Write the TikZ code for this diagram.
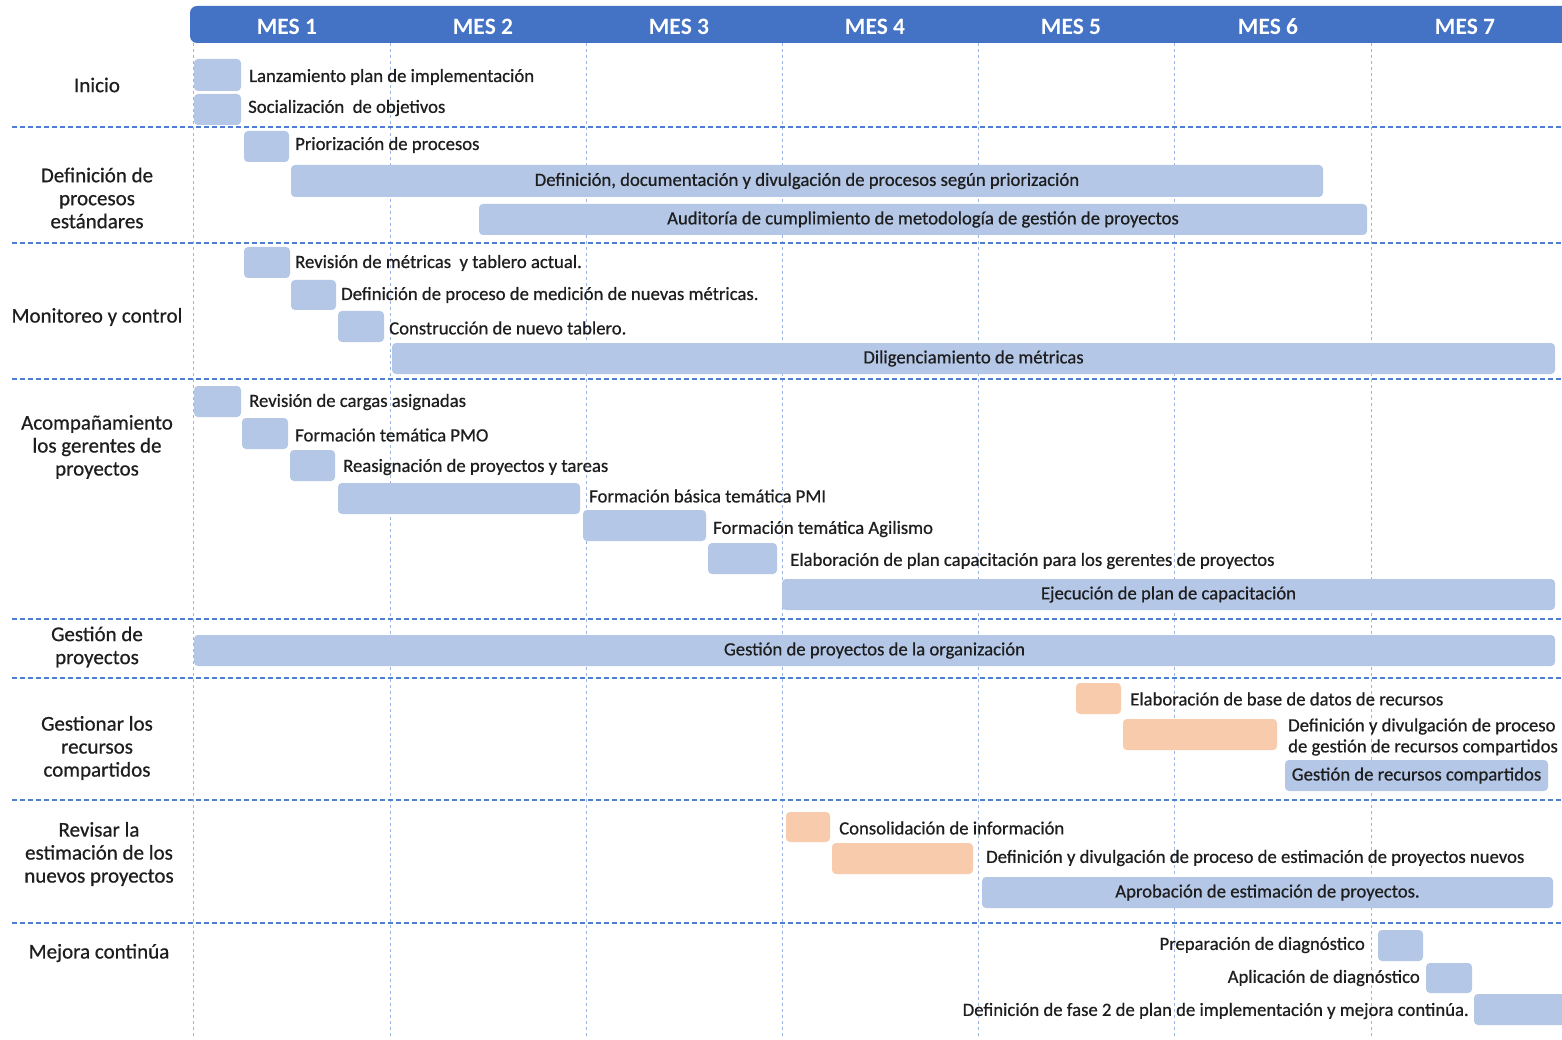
\documentclass[tikz,border=0pt]{standalone}
\usepackage{fontspec}
\setmainfont{Carlito}
\newfontfamily\semibold[FakeBold=0.6]{Carlito}
\begin{document}
\definecolor{hdr}{HTML}{4472C4}
\definecolor{barblue}{HTML}{B4C7E7}
\definecolor{barorange}{HTML}{F8CBAD}
\definecolor{grid}{HTML}{9DB5E0}
\definecolor{sep}{HTML}{4F7FD0}
\definecolor{ink}{HTML}{1E1E1E}
\begin{tikzpicture}[x=1pt,y=-1pt,
  bar/.style={fill=barblue, draw=none, rounded corners=4pt, inner sep=0pt, outer sep=0pt},
  obar/.style={bar, fill=barorange},
  lbl/.style={font=\semibold\fontsize{18.7}{21}\selectfont, text=ink, inner sep=0pt},
  rowlbl/.style={font=\semibold\fontsize{21}{23}\selectfont, text=ink, align=center, inner sep=0pt},
  mes/.style={font=\fontsize{23.5}{25}\selectfont\bfseries, text=white, inner sep=0pt},
  vgrid/.style={draw=grid, dashed, line width=0.8pt},
  hsep/.style={draw=sep, dash pattern=on 5pt off 3pt, line width=1.1pt}]
\useasboundingbox (0,0) rectangle (1562,1040);
\fill[white] (0,0) rectangle (1562,1040);

% task bar: name, left, top, right, bottom, style
\newcommand\gbar[6]{\node (#1) [#6, anchor=north west, minimum width={#4-#2}, minimum height={#5-#3}] at (#2,#3) {};}

% month grid
\foreach \x [count=\i] in {193,390,586,782,978,1174,1371}
  \draw[vgrid] (\x,43) -- (\x,1036);

% row separators
\foreach \y in {127,243,379,619,678,800,923}
  \draw[hsep] (12,\y) -- (1562,\y);

% header band
\fill[hdr, rounded corners=7pt] (190,6) rectangle (1600,43);
\foreach \x [count=\i] in {287,483,679,875,1071,1268,1465}
  \node (m\i) [mes] at (\x,27) {MES \i};

% row titles
\node (r1) [rowlbl] at (97,85) {Inicio};
\node (r2) [rowlbl] at (97,198) {Definición de\\procesos\\estándares};
\node (r3) [rowlbl] at (97,317) {Monitoreo y control};
\node (r4) [rowlbl] at (97,447) {Acompañamiento\\los gerentes de\\proyectos};
\node (r5) [rowlbl] at (97,647) {Gestión de\\proyectos};
\node (r6) [rowlbl] at (97,748) {Gestionar los\\recursos\\compartidos};
\node (r7) [rowlbl] at (99,854) {Revisar la\\estimación de los\\nuevos proyectos};
\node (r8) [rowlbl] at (99,953) {Mejora continúa};

% Inicio
\gbar{b1}{194}{59}{241}{91}{bar}
\node (t1) [lbl, anchor=west] at (249,77) {Lanzamiento plan de implementación};
\gbar{b2}{194}{94}{241}{125}{bar}
\node (t2) [lbl, anchor=west] at (248,108) {Socialización\ \ de objetivos};

% Definición de procesos estándares
\gbar{b3}{244}{131}{289}{162}{bar}
\node (t3) [lbl, anchor=west] at (295,145) {Priorización de procesos};
\gbar{b4}{291}{165}{1323}{197}{bar}
\node (t4) [lbl] at (b4) {Definición, documentación y divulgación de procesos según priorización};
\gbar{b5}{479}{204}{1367}{235}{bar}
\node (t5) [lbl] at (b5) {Auditoría de cumplimiento de metodología de gestión de proyectos};

% Monitoreo y control
\gbar{b6}{244}{247}{290}{278}{bar}
\node (t6) [lbl, anchor=west] at (295,263) {Revisión de métricas\ \ y tablero actual.};
\gbar{b7}{291}{280}{336}{310}{bar}
\node (t7) [lbl, anchor=west] at (341,295) {Definición de proceso de medición de nuevas métricas.};
\gbar{b8}{338}{311}{384}{342}{bar}
\node (t8) [lbl, anchor=west] at (389,328) {Construcción de nuevo tablero.};
\gbar{b9}{392}{343}{1555}{374}{bar}
\node (t9) [lbl] at (b9) {Diligenciamiento de métricas};

% Acompañamiento
\gbar{b10}{194}{386}{241}{417}{bar}
\node (t10) [lbl, anchor=west] at (249,402) {Revisión de cargas asignadas};
\gbar{b11}{242}{418}{288}{449}{bar}
\node (t11) [lbl, anchor=west] at (295,435) {Formación temática PMO};
\gbar{b12}{290}{450}{335}{481}{bar}
\node (t12) [lbl, anchor=west] at (343,467) {Reasignación de proyectos y tareas};
\gbar{b13}{338}{483}{580}{514}{bar}
\node (t13) [lbl, anchor=west] at (589,496) {Formación básica temática PMI};
\gbar{b14}{583}{510}{706}{541}{bar}
\node (t14) [lbl, anchor=west] at (713,529) {Formación temática Agilismo};
\gbar{b15}{708}{543}{777}{574}{bar}
\node (t15) [lbl, anchor=west] at (790,561) {Elaboración de plan capacitación para los gerentes de proyectos};
\gbar{b16}{782}{579}{1555}{610}{bar}
\node (t16) [lbl] at (b16) {Ejecución de plan de capacitación};

% Gestión de proyectos
\gbar{b17}{194}{635}{1555}{666}{bar}
\node (t17) [lbl] at (b17) {Gestión de proyectos de la organización};

% Gestionar los recursos compartidos
\gbar{b18}{1076}{683}{1121}{714}{obar}
\node (t18) [lbl, anchor=west] at (1130,699) {Elaboración de base de datos de recursos};
\gbar{b19}{1123}{719}{1277}{750}{obar}
\node (t19) [lbl, anchor=west, align=left] at (1288,737) {Definición y divulgación de proceso\\de gestión de recursos compartidos};
\gbar{b20}{1285}{760}{1548}{791}{bar}
\node (t20) [lbl] at (b20) {Gestión de recursos compartidos};

% Revisar la estimación
\gbar{b21}{786}{812}{830}{842}{obar}
\node (t21) [lbl, anchor=west] at (839,828) {Consolidación de información};
\gbar{b22}{832}{843}{973}{874}{obar}
\node (t22) [lbl, anchor=west] at (986,858) {Definición y divulgación de proceso de estimación de proyectos nuevos};
\gbar{b23}{982}{877}{1553}{908}{bar}
\node (t23) [lbl] at (b23) {Aprobación de estimación de proyectos.};

% Mejora continúa
\gbar{b24}{1378}{930}{1423}{961}{bar}
\node (t24) [lbl, anchor=east] at (1365,945) {Preparación de diagnóstico};
\gbar{b25}{1426}{963}{1472}{993}{bar}
\node (t25) [lbl, anchor=east] at (1420,978) {Aplicación de diagnóstico};
\gbar{b26}{1474}{994}{1575}{1025}{bar}
\node (t26) [lbl, anchor=east] at (1469,1011) {Definición de fase 2 de plan de implementación y mejora continúa.};
\end{tikzpicture}
\end{document}
